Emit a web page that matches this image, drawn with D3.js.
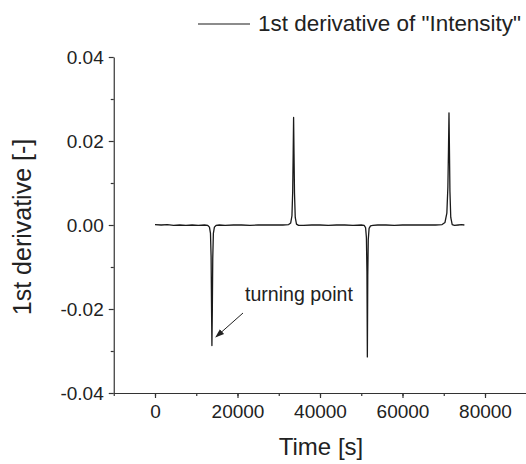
<!DOCTYPE html>
<html>
<head>
<meta charset="utf-8">
<script src="https://cdn.jsdelivr.net/npm/d3@7"></script>
<style>
  body { margin: 0; background: #fff; }
  svg { display: block; font-family: "Liberation Sans", Arial, sans-serif; }
  .axis path, .axis line { stroke: #333; stroke-width: 1.2; }
  .axis text { fill: #222; font-size: 19px; font-family: "Liberation Sans", Arial, sans-serif; }
</style>
</head>
<body>
<svg id="chart" width="526" height="464"></svg>
<script>
const width = 526, height = 464;

// time axis [s] and derivative values
const timeS = [0, 1500, 3000, 4500, 6000, 7500, 9000, 10500, 12000, 12800, 13200, 13450, 13600, 13700, 13800, 13900, 14000, 14150, 14400, 14800, 15600,
  17000, 19000, 21000, 23000, 25000, 27000, 29000, 31000, 32400, 32900, 33200, 33380, 33500, 33600, 33700, 33820, 34000, 34300, 34800, 36000,
  38000, 40000, 42000, 44000, 46000, 48000, 50000, 50700, 51050, 51250, 51380, 51480, 51580, 51700, 51900, 52250, 52800, 54000,
  56000, 58000, 60000, 62000, 64000, 66000, 68000, 69600, 70300, 70750, 71000, 71150, 71270, 71380, 71500, 71700, 72050, 72600, 73500, 74300, 75000];
const deriv = [0.0001, 0.0000, 0.0001, -0.0001, 0.0000, -0.0001, 0.0000, -0.0001, 0.0000, -0.0001, -0.0005, -0.0020, -0.0075, -0.0190, -0.0287, -0.0200, -0.0080, -0.0020, -0.0005, -0.0001, 0.0000,
  -0.0001, 0.0000, 0.0000, -0.0001, 0.0000, 0.0000, 0.0000, 0.0000, 0.0001, 0.0005, 0.0022, 0.0080, 0.0170, 0.0256, 0.0170, 0.0075, 0.0018, 0.0002, -0.0001, -0.0001,
  0.0000, 0.0000, -0.0001, 0.0000, 0.0000, -0.0001, 0.0000, -0.0001, -0.0006, -0.0030, -0.0110, -0.0314, -0.0120, -0.0035, -0.0008, -0.0002, -0.0001, 0.0000,
  0.0000, -0.0001, 0.0000, 0.0000, 0.0000, 0.0000, 0.0000, 0.0001, 0.0006, 0.0028, 0.0090, 0.0180, 0.0267, 0.0180, 0.0080, 0.0018, 0.0001, -0.0001, 0.0000, 0.0001, 0.0000];

const xTicks = [0, 20000, 40000, 60000, 80000];
const yTicks = [-0.04, -0.02, 0.00, 0.02, 0.04];

const svg = d3.select("#chart");

const xScale = d3.scaleLinear().domain([-10000, 90000]).range([113.75, 526.25]);
const yScale = d3.scaleLinear().domain([-0.04, 0.04]).range([393, 57]);

//plain hyphen for negatives, like the original
const yFormat = d => d3.format(".2f")(d).replace("\u2212", "-");

//minor ticks first, so the major ones draw on top
svg.append("g")
    .attr("class", "axis")
    .attr("transform", `translate(0,${yScale(-0.04)})`)
    .call(d3.axisBottom(xScale).tickValues(d3.range(-10000, 90001, 10000)).tickSize(3).tickFormat(""))
    .call(g => g.select(".domain").remove());

svg.append("g")
    .attr("class", "axis")
    .attr("transform", `translate(0,${yScale(-0.04)})`)
    .call(d3.axisBottom(xScale).tickValues(xTicks).tickSize(5).tickSizeOuter(0).tickPadding(7).tickFormat(d3.format("d")));

svg.append("g")
    .attr("class", "axis")
    .attr("transform", `translate(${xScale(-10000)},0)`)
    .call(d3.axisLeft(yScale).tickValues([-0.03, -0.01, 0.01, 0.03]).tickSize(3).tickFormat(""))
    .call(g => g.select(".domain").remove());

svg.append("g")
    .attr("class", "axis")
    .attr("transform", `translate(${xScale(-10000)},0)`)
    .call(d3.axisLeft(yScale).tickValues(yTicks).tickSize(5).tickSizeOuter(0).tickPadding(5).tickFormat(yFormat));

//the derivative curve
const line = d3.line()
    .x((d, i) => xScale(timeS[i]))
    .y(d => yScale(d));

svg.append("path")
    .datum(deriv)
    .attr("d", line)
    .attr("fill", "none")
    .attr("stroke", "#1a1a1a")
    .attr("stroke-width", 1.3)
    .attr("stroke-linejoin", "round");

//axis titles
svg.append("text")
    .text("Time [s]")
    .attr("x", 321)
    .attr("y", 455)
    .attr("text-anchor", "middle")
    .attr("font-size", 24)
    .attr("fill", "#222");

svg.append("text")
    .text("1st derivative [-]")
    .attr("transform", `translate(31,${yScale(0) + 2}) rotate(-90)`)
    .attr("text-anchor", "middle")
    .attr("font-size", 25)
    .attr("fill", "#222");

//legend
svg.append("line")
    .attr("x1", 198).attr("x2", 250)
    .attr("y1", 24).attr("y2", 24)
    .attr("stroke", "#1a1a1a")
    .attr("stroke-width", 1.2);

svg.append("text")
    .text('1st derivative of "Intensity"')
    .attr("x", 258)
    .attr("y", 31)
    .attr("font-size", 22.5)
    .attr("textLength", 263)
    .attr("lengthAdjust", "spacingAndGlyphs")
    .attr("fill", "#222");

//annotation for the first minimum
svg.append("defs").append("marker")
    .attr("id", "arrow")
    .attr("viewBox", "0 0 10 10")
    .attr("refX", 9).attr("refY", 5)
    .attr("markerWidth", 9).attr("markerHeight", 9)
    .attr("orient", "auto")
  .append("path")
    .attr("d", "M0,1.5 L10,5 L0,8.5 Z")
    .attr("fill", "#222");

svg.append("line")
    .attr("x1", 243).attr("y1", 313)
    .attr("x2", xScale(13800) + 4).attr("y2", 337)
    .attr("stroke", "#222")
    .attr("stroke-width", 1)
    .attr("marker-end", "url(#arrow)");

svg.append("text")
    .text("turning point")
    .attr("x", 245)
    .attr("y", 301)
    .attr("font-size", 19.6)
    .attr("fill", "#222");
</script>
</body>
</html>
